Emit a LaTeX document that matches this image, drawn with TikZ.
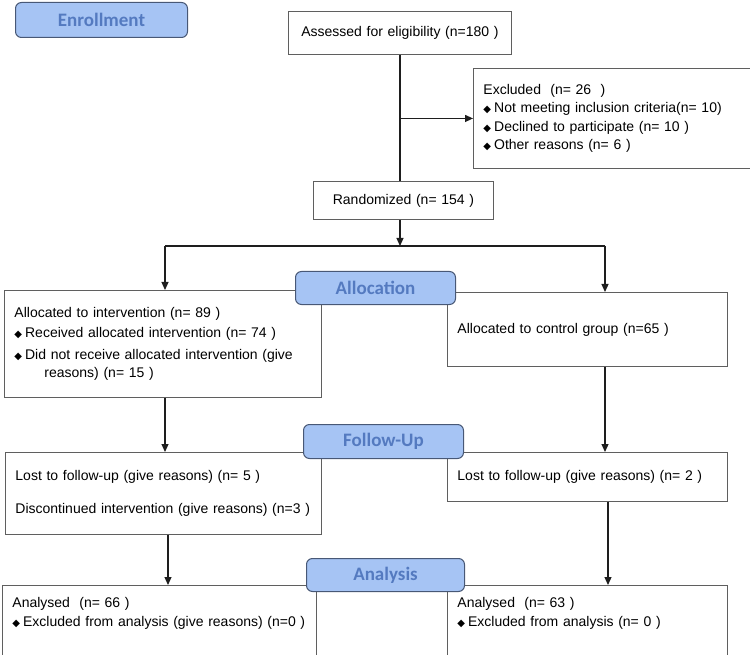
\documentclass[tikz,border=0pt]{standalone}
\usepackage{fontspec}
\setmainfont{Liberation Sans}
\newfontfamily\phasefont{Carlito}
\newfontfamily\symfont{DejaVu Sans}
\usetikzlibrary{arrows.meta}
\definecolor{phasefill}{RGB}{166,196,244}
\definecolor{phasetext}{RGB}{84,122,192}
\definecolor{phasedraw}{RGB}{72,88,118}
\definecolor{boxgray}{RGB}{95,95,95}
\definecolor{linegray}{RGB}{30,30,30}
\newcommand{\dbullet}{{\symfont\fontsize{10}{10}\selectfont ◆}\hspace{3pt}}

\tikzset{
  flowbox/.style={draw=boxgray, line width=0.9pt, anchor=north west, inner xsep=10pt,
                  align=left, font=\fontsize{14}{18.5}\selectfont},
  phasebox/.style={draw=phasedraw, fill=phasefill, rounded corners=6pt, line width=1pt,
                   anchor=north west, text=phasetext, font=\phasefont\bfseries\fontsize{19}{21}\selectfont},
  flowline/.style={draw=linegray, line width=1.2pt},
  flowarrow/.style={flowline, -{Triangle[length=8pt,width=7pt]}}
}

\begin{document}
\begin{tikzpicture}[x=1pt, y=-1pt]
\useasboundingbox (0,0) rectangle (750,655);

% enrollment
\node[flowbox, align=center, minimum width=223pt, minimum height=43pt, text width=203pt]
      (assess) at (288,11) {Assessed for eligibility (n=180 )};
\node[flowbox, minimum width=282pt, minimum height=100pt, text width=262pt]
      (excl) at (473,68)
      {Excluded\ \ (n= 26\ \ )\\
       \dbullet Not meeting inclusion criteria(n= 10)\\
       \dbullet Declined to participate (n= 10 )\\
       \dbullet Other reasons (n= 6 )};
\node[flowbox, align=center, minimum width=180pt, minimum height=38pt, text width=160pt]
      (rand) at (313,181) {Randomized (n= 154 )};

% allocation
\node[flowbox, minimum width=317pt, minimum height=107pt, text width=297pt]
      (int) at (4,290)
      {Allocated to intervention (n= 89 )\\[2pt]
       \dbullet Received allocated intervention (n= 74 )\\[3pt]
       \dbullet Did not receive allocated intervention (give\\
       \hspace*{30pt}reasons) (n= 15 )};
\node[flowbox, minimum width=280pt, minimum height=74pt, text width=260pt]
      (ctrl) at (447,292) {Allocated to control group (n=65 )};

% follow-up
\node[flowbox, minimum width=316pt, minimum height=82pt, text width=296pt]
      (fint) at (5,452)
      {Lost to follow-up (give reasons) (n= 5 )\\[14pt]
       Discontinued intervention (give reasons) (n=3 )};
\node[flowbox, minimum width=280pt, minimum height=49pt, text width=260pt]
      (fctrl) at (447,452) {Lost to follow-up (give reasons) (n= 2 )};

% analysis
\node[flowbox, minimum width=314pt, text width=294pt, inner ysep=12pt, text depth=70pt]
      (aint) at (2,585)
      {Analysed\ \ (n= 66 )\\
       \dbullet Excluded from analysis (give reasons) (n=0 )};
\node[flowbox, minimum width=280pt, text width=260pt, inner ysep=12pt, text depth=70pt]
      (actrl) at (447,585)
      {Analysed\ \ (n= 63 )\\
       \dbullet Excluded from analysis (n= 0 )};

% connectors
\coordinate (lsplit) at (165,246);
\coordinate (rsplit) at (605,246);
\coordinate (split) at (400,246);
\coordinate (lcol) at (168,560);
\coordinate (rcol) at (608,560);
\draw[flowline] (assess.south) -- (assess.south |- rand.north);
\draw[flowarrow] (assess.south |- excl.west) -- (excl.west);
\draw[flowarrow] (split |- rand.south) -- (split);
\draw[flowline] (lsplit) -- (rsplit);
\draw[flowarrow] (lsplit) -- (lsplit |- int.north);
\draw[flowarrow] (rsplit) -- (rsplit |- ctrl.north);
\draw[flowarrow] (lsplit |- int.south) -- (lsplit |- fint.north);
\draw[flowarrow] (rsplit |- ctrl.south) -- (rsplit |- fctrl.north);
\draw[flowarrow] (lcol |- fint.south) -- (lcol |- aint.north);
\draw[flowarrow] (rcol |- fctrl.south) -- (rcol |- actrl.north);

% phase labels
\node[phasebox, minimum width=172pt, minimum height=35pt] (enroll) at (15,2) {Enrollment};
\node[phasebox, minimum width=160pt, minimum height=33pt] (allocation) at (295,271) {Allocation};
\node[phasebox, minimum width=160pt, minimum height=34pt] (followup) at (303,424) {Follow-Up};
\node[phasebox, minimum width=158pt, minimum height=33pt] (analysis) at (306,558) {Analysis};
\end{tikzpicture}
\end{document}
